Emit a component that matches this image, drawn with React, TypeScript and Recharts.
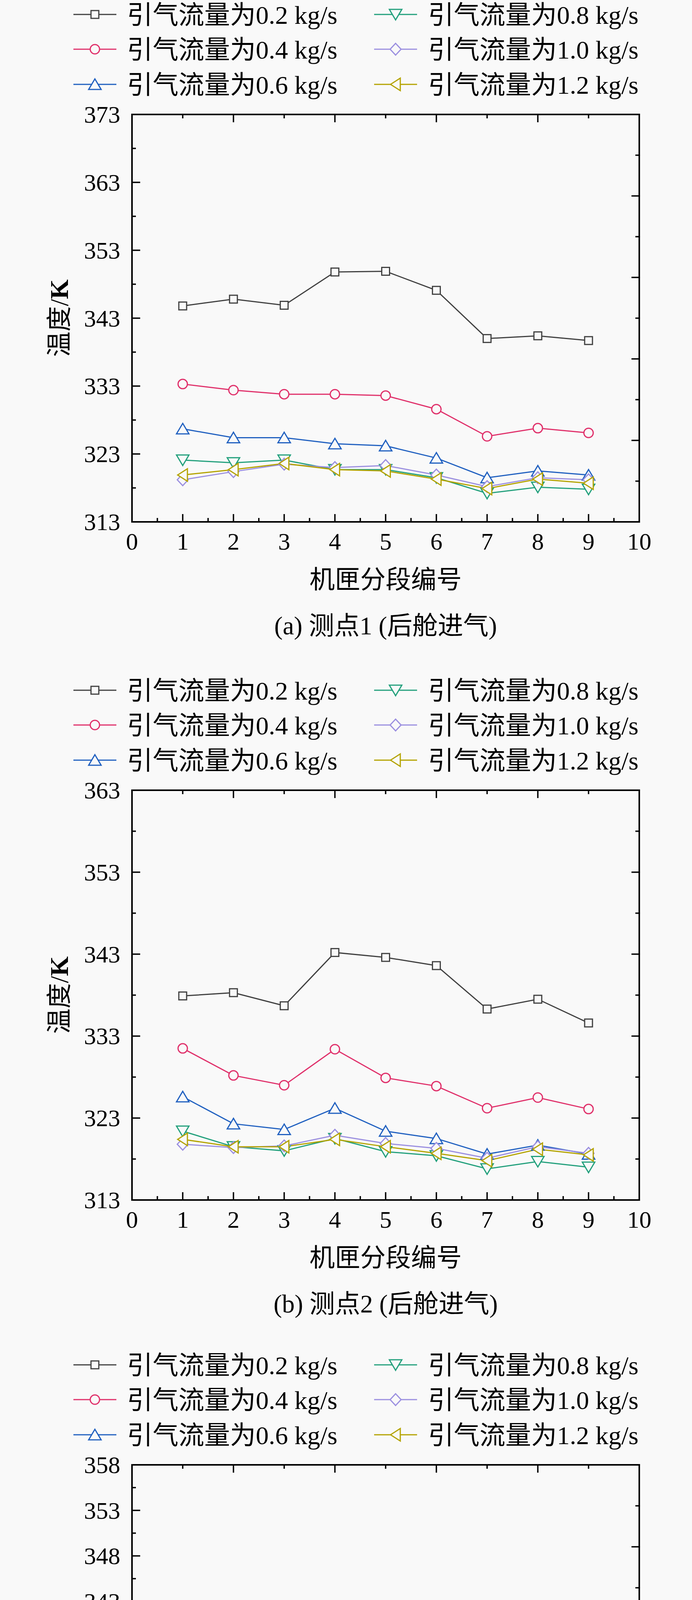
import { Legend, Line, LineChart, XAxis, YAxis } from "recharts";

const FONT = "'Liberation Serif', 'Times New Roman', 'Noto Sans CJK SC', serif";
const BG = "#f9f9f9";

// x categories: casing segment number
const segments = [1, 2, 3, 4, 5, 6, 7, 8, 9];

const flowLabels = [
    "引气流量为0.2 kg/s",
    "引气流量为0.4 kg/s",
    "引气流量为0.6 kg/s",
    "引气流量为0.8 kg/s",
    "引气流量为1.0 kg/s",
    "引气流量为1.2 kg/s",
];

// ticks
const xTicks = [0, 0.5, 1, 1.5, 2, 2.5, 3, 3.5, 4, 4.5, 5, 5.5, 6, 6.5, 7, 7.5, 8, 8.5, 9, 9.5, 10];
const mirrorTicks = [1, 2, 3, 4, 5, 6, 7, 8, 9];
const yTicksA = [313, 318, 323, 328, 333, 338, 343, 348, 353, 358, 363, 368, 373];
const yTicksB = [313, 318, 323, 328, 333, 338, 343, 348, 353, 358, 363];
const yTicksC = [313, 315.5, 318, 320.5, 323, 325.5, 328, 330.5, 333, 335.5, 338, 340.5, 343, 345.5, 348, 350.5, 353, 355.5, 358];

// (a) 测点1
const a02 = [344.8, 345.8, 344.9, 349.8, 349.9, 347.1, 340.0, 340.4, 339.7];
const a04 = [333.3, 332.4, 331.8, 331.8, 331.6, 329.6, 325.6, 326.8, 326.1];
const a06 = [326.7, 325.4, 325.4, 324.5, 324.2, 322.4, 319.5, 320.5, 319.9];
const a08 = [322.1, 321.7, 322.1, 320.7, 320.7, 319.5, 317.2, 318.1, 317.8];
const a10 = [319.2, 320.4, 321.5, 321.0, 321.3, 319.9, 318.2, 319.5, 319.2];
const a12 = [319.9, 320.7, 321.6, 320.7, 320.5, 319.3, 317.9, 319.3, 318.7];

// (b) 测点2
const b02 = [337.9, 338.3, 336.7, 343.2, 342.6, 341.6, 336.3, 337.5, 334.6];
const b04 = [331.5, 328.2, 327.0, 331.4, 327.9, 326.9, 324.2, 325.5, 324.1];
const b06 = [325.6, 322.3, 321.6, 324.2, 321.4, 320.5, 318.6, 319.7, 318.6];
const b08 = [321.4, 319.5, 319.0, 320.5, 318.9, 318.4, 316.8, 317.7, 317.0];
const b10 = [319.8, 319.4, 319.6, 320.9, 319.9, 319.3, 318.1, 319.5, 318.7];
const b12 = [320.4, 319.5, 319.5, 320.4, 319.5, 318.7, 317.8, 319.2, 318.5];

// (c) 测点3
const c02 = [335.6, 334.7, 330.3, 339.7, 337.3, 335.4, 331.1, 331.5, 333.0];
const c04 = [329.5, 328.5, 324.0, 329.0, 327.6, 325.8, 322.4, 322.9, 323.8];
const c06 = [324.4, 323.4, 319.4, 322.7, 321.8, 319.9, 317.8, 318.3, 318.5];
const c08 = [320.6, 320.3, 316.8, 319.6, 319.3, 317.6, 316.1, 316.5, 316.8];
const c10 = [319.3, 319.7, 316.5, 320.5, 320.5, 319.0, 317.7, 318.3, 318.5];
const c12 = [319.9, 319.8, 316.8, 319.9, 320.1, 318.8, 317.4, 318.2, 318.5];

const series = [
    { key: "s02", color: "#404040", shape: "square" },
    { key: "s04", color: "#e0306a", shape: "circle" },
    { key: "s06", color: "#2060c0", shape: "up" },
    { key: "s08", color: "#22a07c", shape: "down" },
    { key: "s10", color: "#9b8fe0", shape: "diamond" },
    { key: "s12", color: "#b4a300", shape: "left" },
];

const panels = [
    { id: "a", top: 0, plotHeight: 1043, domain: [313, 373], ticks: yTicksA, majorStep: 10, caption: "(a) 测点1 (后舱进气)", values: [a02, a04, a06, a08, a10, a12] },
    { id: "b", top: 1730, plotHeight: 1049, domain: [313, 363], ticks: yTicksB, majorStep: 10, caption: "(b) 测点2 (后舱进气)", values: [b02, b04, b06, b08, b10, b12] },
    { id: "c", top: 3457, plotHeight: 1049, domain: [313, 358], ticks: yTicksC, majorStep: 5, caption: "(c) 测点3 (后舱进气)", values: [c02, c04, c06, c08, c10, c12] },
];

const PLOT_TOP = 293;
const BOTTOM_AXIS = 330;

const Marker = ({ shape, cx, cy, color }: { shape: string, cx: number, cy: number, color: string }) => {
    const p = { fill: BG, stroke: color, strokeWidth: 3 };
    if (shape === "square") return <rect x={cx - 10} y={cy - 10} width={20} height={20} {...p} />;
    if (shape === "circle") return <circle cx={cx} cy={cy} r={12} {...p} />;
    let pts = "";
    if (shape === "up") pts = `${cx},${cy - 14} ${cx + 16},${cy + 13} ${cx - 16},${cy + 13}`;
    if (shape === "down") pts = `${cx},${cy + 14} ${cx + 16},${cy - 13} ${cx - 16},${cy - 13}`;
    if (shape === "diamond") pts = `${cx},${cy - 15} ${cx + 14},${cy} ${cx},${cy + 15} ${cx - 14},${cy}`;
    if (shape === "left") pts = `${cx - 13},${cy} ${cx + 12},${cy - 16} ${cx + 12},${cy + 16}`;
    return <polygon points={pts} {...p} />;
};

const renderLegend = () => (
    <svg width={1772} height={260} style={{ display: "block" }}>
        {series.map((s, i) => {
            const col = Math.floor(i / 3);
            const y = [37, 126, 216][i % 3];
            const x0 = col ? 958 : 188;
            return (
                <g key={s.key}>
                    <line x1={x0} y1={y} x2={x0 + 110} y2={y} stroke={s.color} strokeWidth={3} />
                    <Marker shape={s.shape} cx={x0 + 55} cy={y} color={s.color} />
                    <text x={col ? 1096 : 325} y={y + 24} fontSize={66} fontFamily={FONT} fill="#000">
                        {flowLabels[i]}
                    </text>
                </g>
            );
        })}
    </svg>
);

const tickStroke = { stroke: "#000", strokeWidth: 3.5 };

const bottomTick = (props: any) => {
    const { x, y, payload } = props;
    const major = Number.isInteger(payload.value);
    return (
        <g>
            <line x1={x} y1={y} x2={x} y2={y - (major ? 20 : 10)} {...tickStroke} />
            {major && (
                <text x={x} y={y + 71} textAnchor="middle" fontSize={62} fontFamily={FONT} fill="#000">
                    {payload.value}
                </text>
            )}
        </g>
    );
};

const topTick = (props: any) => {
    const { x, y, payload } = props;
    const major = payload.value % 2 === 0;
    return <line x1={x} y1={y} x2={x} y2={y + (major ? 20 : 10)} {...tickStroke} />;
};

const rightTick = (props: any) => {
    const { x, y, payload } = props;
    const major = payload.value % 2 === 0;
    return <line x1={x} y1={y} x2={x - (major ? 20 : 10)} y2={y} {...tickStroke} />;
};

const makeLeftTick = (majorStep: number) => (props: any) => {
    const { x, y, payload } = props;
    const major = (payload.value - 313) % majorStep === 0;
    return (
        <g>
            <line x1={x} y1={y} x2={x + (major ? 21 : 10)} y2={y} {...tickStroke} />
            {major && (
                <text x={x - 30} y={y + 21} textAnchor="end" fontSize={62} fontFamily={FONT} fill="#000">
                    {payload.value}
                </text>
            )}
        </g>
    );
};

const makeXLabel = (caption: string) => (props: any) => {
    const vb = props.viewBox || {};
    const cx = vb.x + vb.width / 2;
    return (
        <g>
            <text x={cx} y={vb.y + 170} textAnchor="middle" fontSize={65} fontFamily={FONT} fill="#000">
                机匣分段编号
            </text>
            <text x={cx} y={vb.y + 288} textAnchor="middle" fontSize={65} fontFamily={FONT} fill="#000">
                {caption}
            </text>
        </g>
    );
};

const yLabel = (props: any) => {
    const vb = props.viewBox || {};
    const x = vb.x + vb.width - 164;
    const cy = vb.y + vb.height / 2;
    return (
        <text x={x} y={cy} transform={`rotate(-90, ${x}, ${cy})`} textAnchor="middle" fontSize={65} fontFamily={FONT} fill="#000">
            温度/<tspan fontWeight="bold">K</tspan>
        </text>
    );
};

const frameLine = { stroke: "#000", strokeWidth: 4, strokeLinecap: "square" as const };

const Panel = ({ panel }: { panel: typeof panels[number] }) => {
    const data = segments.map((seg, i) => {
        const row: Record<string, number> = { seg };
        series.forEach((s, k) => { row[s.key] = panel.values[k][i]; });
        return row;
    });

    return (
        <div style={{ position: "absolute", left: 0, top: panel.top }}>
            <LineChart
                width={1772}
                height={PLOT_TOP + panel.plotHeight + BOTTOM_AXIS}
                data={data}
                margin={{ top: PLOT_TOP - 1, right: 134, bottom: 0, left: 138 }}
            >
                <XAxis
                    xAxisId="b"
                    dataKey="seg"
                    type="number"
                    domain={[0, 10]}
                    allowDataOverflow
                    ticks={xTicks}
                    interval={0}
                    height={BOTTOM_AXIS}
                    tickSize={0}
                    tickMargin={0}
                    tickLine={false}
                    axisLine={frameLine}
                    tick={bottomTick}
                    label={makeXLabel(panel.caption)}
                />
                <XAxis
                    xAxisId="t"
                    orientation="top"
                    dataKey="seg"
                    type="number"
                    domain={[0, 10]}
                    allowDataOverflow
                    ticks={mirrorTicks}
                    interval={0}
                    height={1}
                    tickSize={0}
                    tickMargin={0}
                    tickLine={false}
                    axisLine={frameLine}
                    tick={topTick}
                />
                <YAxis
                    yAxisId="l"
                    type="number"
                    domain={panel.domain}
                    allowDataOverflow
                    ticks={panel.ticks}
                    interval={0}
                    width={200}
                    tickSize={0}
                    tickMargin={0}
                    tickLine={false}
                    axisLine={frameLine}
                    tick={makeLeftTick(panel.majorStep)}
                    label={yLabel}
                />
                <YAxis
                    yAxisId="r"
                    orientation="right"
                    type="number"
                    domain={[0, 10]}
                    allowDataOverflow
                    ticks={mirrorTicks}
                    interval={0}
                    width={1}
                    tickSize={0}
                    tickMargin={0}
                    tickLine={false}
                    axisLine={frameLine}
                    tick={rightTick}
                />
                <Legend
                    layout="vertical"
                    align="center"
                    verticalAlign="middle"
                    wrapperStyle={{ top: 0, left: 0, width: 1772, height: 260 }}
                    content={renderLegend}
                />
                {series.map((s) => (
                    <Line
                        key={s.key}
                        xAxisId="b"
                        yAxisId="l"
                        type="linear"
                        dataKey={s.key}
                        stroke={s.color}
                        strokeWidth={3}
                        activeDot={false}
                        isAnimationActive={false}
                        dot={(p: any) => <Marker key={`${s.key}-${p.index}`} shape={s.shape} cx={p.cx} cy={p.cy} color={s.color} />}
                    />
                ))}
            </LineChart>
        </div>
    );
};

const App = () => {
    return (
        <div style={{ position: "absolute", left: 0, top: 0, width: 1772, height: 5106, overflow: "hidden", background: BG, fontFamily: FONT }}>
            {panels.map((p) => <Panel key={p.id} panel={p} />)}
        </div>
    );
};

export default App;
